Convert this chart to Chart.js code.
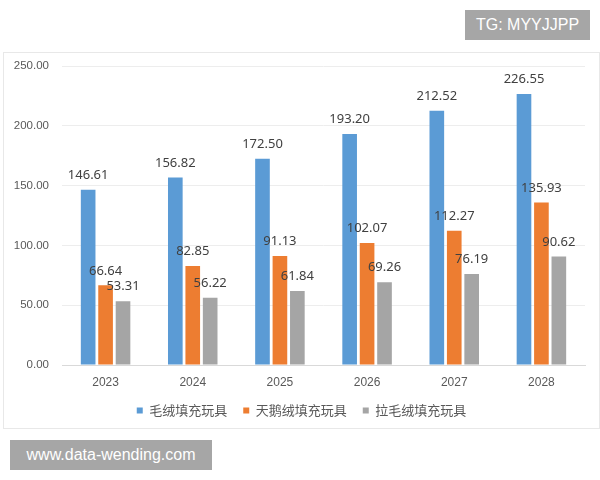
<!DOCTYPE html>
<html>
<head>
<meta charset="utf-8">
<script src="https://cdn.jsdelivr.net/npm/chart.js@4.4.0/dist/chart.umd.min.js"></script>
<style>
  body { margin: 0; background: #fff; width: 600px; height: 480px; position: relative; overflow: hidden;
         font-family: "Noto Sans CJK SC", "Noto Sans", sans-serif; }
  .frame { position: absolute; left: 3px; top: 52px; width: 595px; height: 375px;
           border: 1px solid #e8e8e8; background: #fff; }
  .tag { position: absolute; background: #a6a6a6; color: #fff; font-family: "Liberation Sans", Arial, sans-serif; }
  #tg { left: 465px; top: 10px; width: 125px; height: 30px; line-height: 30px; font-size: 16px; text-align: center; }
  #site { left: 10px; top: 440px; width: 202px; height: 30px; line-height: 30px; font-size: 16px; text-align: center; }
</style>
</head>
<body>
<div class="frame"><canvas id="chart" width="595" height="375"></canvas></div>
<div class="tag" id="tg">TG: MYYJJPP</div>
<div class="tag" id="site">www.data-wending.com</div>
<script>
const years = ["2023", "2024", "2025", "2026", "2027", "2028"];
const plushToys = [146.61, 156.82, 172.50, 193.20, 212.52, 226.55];
const velvetToys = [66.64, 82.85, 91.13, 102.07, 112.27, 135.93];
const brushedToys = [53.31, 56.22, 61.84, 69.26, 76.19, 90.62];
const seriesNames = ["毛绒填充玩具", "天鹅绒填充玩具", "拉毛绒填充玩具"];
const yTicks = [0, 50, 100, 150, 200, 250];

// draws the value above each bar
const valueLabels = {
    id: "valueLabels",
    afterDatasetsDraw(chart) {
        const ctx = chart.ctx;
        ctx.save();
        ctx.font = "13px 'Noto Sans', 'DejaVu Sans', sans-serif";
        ctx.fillStyle = "#404040";
        ctx.textAlign = "center";
        ctx.textBaseline = "bottom";
        chart.data.datasets.forEach((ds, i) => {
            chart.getDatasetMeta(i).data.forEach((bar, j) => {
                ctx.fillText(ds.data[j].toFixed(2), bar.x, bar.y - 8);
            });
        });
        ctx.restore();
    },
};

const ctx = document.getElementById("chart").getContext("2d");
new Chart(ctx, {
    type: "bar",
    data: {
        labels: years,
        datasets: [
            { label: seriesNames[0], data: plushToys, backgroundColor: "#5b9bd5" },
            { label: seriesNames[1], data: velvetToys, backgroundColor: "#ed7d31" },
            { label: seriesNames[2], data: brushedToys, backgroundColor: "#a5a5a5" },
        ],
    },
    options: {
        responsive: false,
        animation: false,
        layout: { padding: { top: 13, right: 0, left: 0, bottom: 1 } },
        datasets: { bar: { categoryPercentage: 0.6, barPercentage: 0.84 } },
        plugins: {
            legend: {
                position: "bottom",
                labels: {
                    boxWidth: 6,
                    boxHeight: 6,
                    padding: 16,
                    color: "#595959",
                    font: { size: 13, family: "'Noto Sans CJK SC', sans-serif" },
                },
            },
            tooltip: { enabled: false },
        },
        scales: {
            x: {
                afterFit: (scale) => { scale.height = 23; },
                grid: { display: false, drawTicks: false },
                border: { color: "#d9d9d9" },
                ticks: { color: "#595959", font: { size: 12 }, padding: 10 },
            },
            y: {
                min: 0,
                max: 250,
                afterBuildTicks: (scale) => { scale.ticks = yTicks.map(v => ({ value: v })); },
                afterFit: (scale) => {
                    scale.width = 58;
                    scale.paddingTop = 0;
                    scale.paddingBottom = 0;
                },
                border: { display: false },
                grid: { color: "#ededed", drawTicks: false },
                ticks: {
                    color: "#595959",
                    font: { size: 11.5 },
                    padding: 13,
                    callback: (v) => Number(v).toFixed(2),
                },
            },
            // empty spacer on the right so the legend stays centred on the frame
            spacer: {
                position: "right",
                min: 0,
                max: 250,
                afterFit: (scale) => {
                    scale.width = 14;
                    scale.paddingTop = 0;
                    scale.paddingBottom = 0;
                },
                border: { display: false },
                grid: { display: false, drawTicks: false },
                ticks: { display: false },
            },
        },
    },
    plugins: [valueLabels],
});
</script>
</body>
</html>
